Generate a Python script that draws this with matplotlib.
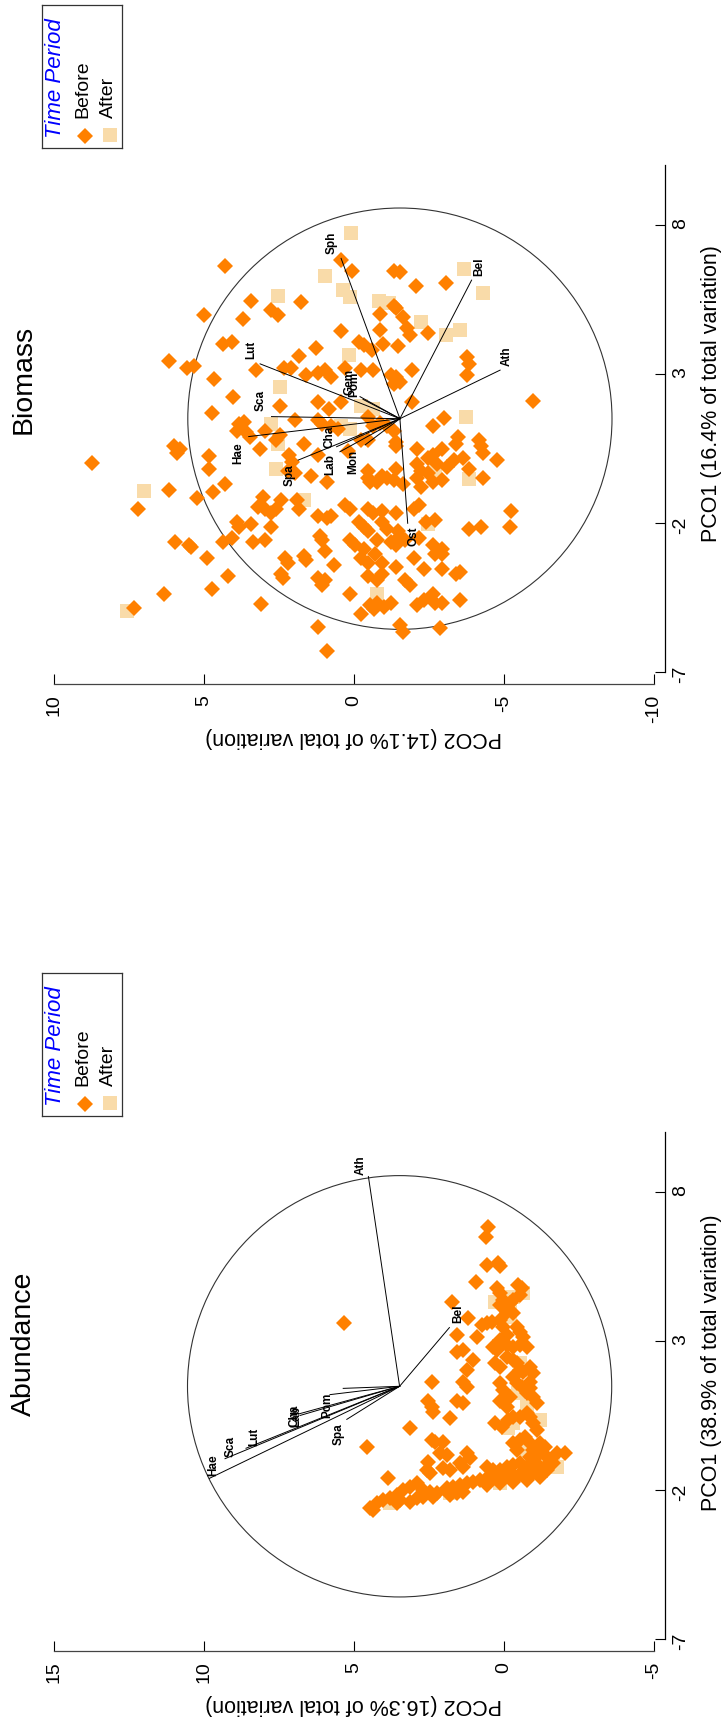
import numpy as np
import matplotlib.pyplot as plt
from matplotlib.patches import Circle

plt.rcParams['font.family'] = ['Liberation Sans', 'DejaVu Sans']
plt.rcParams['axes.unicode_minus'] = False

W, H = 722, 1719
BEFORE = '#ff8000'
AFTER = '#f9dba9'

# ---- Abundance: PCO scores (PCO1, PCO2) ----
abund_before_pco1 = [
    6.81, 6.49, 5.55, 5.63, 5.50, 4.99, 4.77, 4.60, 4.38, 4.88, 4.77, 4.54, 4.38, 4.26, 4.32,
    3.76, 4.21, 3.98, 3.93, 3.54, 3.59, 3.65, 3.20, 3.15, 3.71, 3.48, 3.20, 3.48, 3.31, 3.15,
    3.03, 2.87, 2.81, 2.87, 2.81, 2.64, 2.70, 2.36, 2.81, 2.70, 2.25, 2.14, 2.47, 2.36, 2.25,
    2.03, 1.97, 2.14, 1.92, 1.64, 2.03, 1.64, 1.64, 1.47, 0.97, 0.91, 1.58, 1.36, 1.80, 1.58,
    1.47, 1.24, 1.41, 1.13, 0.91, 0.97, 0.80, 0.63, 0.97, 0.80, 1.13, 0.41, 0.24, 0.13, 0.35,
    0.46, 0.46, 0.57, 0.46, 0.24, 0.01, 0.07, -0.32, -0.38, -0.38, -0.32, -0.21, -0.43, -0.66,
    -0.43, -0.66, -0.43, -0.55, -0.55, -1.05, -0.77, -0.83, -0.77, -0.94, -0.88, -0.99, -0.77,
    -0.88, -0.77, -0.77, -1.33, -1.44, -1.27, -1.33, -1.10, -1.22, -1.22, -1.33, -1.33, -1.22,
    -1.16, -1.10, -1.22, -1.33, -1.22, -1.16, -1.10, -1.61, -2.00, -1.89, -1.78, -2.00, -2.06,
    -2.17, -1.94, -1.89, -1.83, -1.78, -1.72, -1.66, -1.61, -1.55, -1.55, -1.50, -1.50, -1.46,
    -1.44, -1.42, -1.38, -1.33, -2.17, -2.11, -2.06, -2.45, -2.34, -2.28, -2.62, -2.67, -2.39,
    -2.28, -2.22, -2.22, -2.11, -2.45, -2.34, -1.83, -1.78, -1.72, -1.66, -1.55, 3.62]
abund_before_pco2 = [
    0.53, 0.61, 0.58, 0.19, 0.13, 0.93, 0.24, 0.13, 0.02, -0.48, -0.59, -0.53, -0.31, -0.20, 1.74,
    1.19, 0.13, -0.09, -0.31, 0.74, 0.58, 0.41, 1.58, 0.91, 0.13, 0.02, -0.09, -0.42, -0.53, -0.64,
    0.13, -0.09, -0.31, -0.53, -0.76, 1.58, 1.36, 1.02, 0.36, 0.24, 0.30, 0.13, -0.09, -0.31, -0.42,
    -0.53, -0.64, -0.87, -0.98, -0.87, 1.24, 2.41, 1.36, 1.24, 1.58, 1.36, 0.13, 0.02, -0.31, -0.42,
    -0.59, -0.76, -0.87, -0.98, -1.09, 2.52, 2.41, 2.36, 0.13, -0.09, -0.20, 1.80, 0.30, 0.08, -0.14,
    -0.31, -0.53, -0.76, -0.87, -0.98, -1.09, 3.13, 2.41, 2.30, 2.02, -0.53, -0.70, -0.31, -0.42,
    -0.87, -0.98, -1.20, -1.37, 4.58, 2.52, 2.13, 1.91, 1.24, 1.13, -0.87, -0.98, -1.20,
    -1.42, -1.76, -2.03, 2.58, 2.47, 2.02, 1.80, 1.47, 1.36, 0.58, 0.36, 0.13, -0.09,
    -0.31, -0.53, -0.76, -0.98, -1.20, -1.42, -1.64, 3.86, 3.36, 3.13, 2.91, 2.69, 2.47,
    3.58, 1.91, 1.69, 1.47, 1.24, 1.02, 0.80, 0.58, 0.36, 0.13, -0.09, -0.31, -0.53,
    -0.76, -0.98, -1.20, -1.42, 1.80, 1.58, 1.36, 4.24, 4.02, 3.80, 4.47, 4.36, 3.13,
    2.91, 2.69, 2.36, 2.24, 3.58, 3.47, 0.58, 0.13, -0.31, -0.76, -1.20, 5.33]
abund_after_pco1 = [4.32, 4.49, 4.60, 3.82, 2.25, 2.03, 1.24, 0.80, 0.07, 0.24, 0.35, -0.66,
                    -1.16, -1.22, -0.99, -1.78, -2.11, -2.45, 4.21]
abund_after_pco2 = [0.30, -0.31, -0.64, -0.20, -0.53, -0.64, -0.48, -0.76, -0.14, -0.31, -1.20, -0.76,
                    -1.64, -1.76, -1.31, 0.13, 1.80, 3.80, -0.20]

abund_vec_names = ['Ath', 'Bel', 'Hae', 'Sca', 'Lut', 'Cha', 'Lab', 'Pom', 'Spa', '']
abund_vec_pco1 = [8.52, 3.45, -1.61, -0.95, -0.60, 0.55, 0.50, 1.20, 0.37, 1.41]
abund_vec_pco2 = [4.52, 1.82, 9.82, 9.30, 8.60, 6.85, 6.80, 5.80, 5.24, 5.36]
abund_origin = (1.48, 3.48)

# ---- Biomass: PCO scores (PCO1, PCO2) ----
bio_before_pco1 = [
    6.61, 4.99, 5.44, 4.84, 5.14, 4.99, 5.41, 6.82, 6.46, 6.46, 6.41, 5.96, 6.07, 5.29, 5.21,
    5.02, 4.91, 4.54, 4.31, 4.36, 4.43, 4.49, 4.09, 3.97, 4.01, 3.94, 3.79, 3.87, 3.42, 3.19,
    3.27, 4.01, 4.09, 3.12, 3.61, 3.19, 3.19, 2.97, 3.04, 3.12, 2.89, 3.19, 3.12, 3.12, 2.97,
    2.89, 3.12, 3.57, 3.34, 2.97, 2.82, 2.22, 1.69, 1.92, 2.07, 1.84, 2.07, 2.67, 2.74, 2.07,
    2.11, 1.32, 1.39, 1.09, 1.05, 1.44, 1.47, 1.32, 1.24, 1.17, 1.54, 1.24, 1.35, 1.24, 1.51,
    1.24, 0.90, 1.09, 0.79, 0.94, 0.64, 0.79, 0.79, 1.09, 0.72, 0.87, 0.64, 0.79, 0.57, 0.57,
    0.49, 0.34, 0.24, 0.49, 0.27, 0.04, 0.27, 0.42, 0.57, 0.49, 0.19, 0.27, 0.49, 0.19, 0.34,
    0.12, -0.18, -0.26, -0.33, -0.41, -0.63, -0.26, -0.41, -0.18, -0.03, -0.26, -0.33, -0.03,
    -0.11, 0.12, -0.18, 0.00, -0.88, -0.97, -0.70, -1.15, -1.12, -1.23, -1.23, -1.53, -1.75,
    -1.83, -1.75, -1.38, -1.53, -0.48, -0.63, -0.63, -0.48, -0.55, -0.70, -0.48, -0.78, -0.63,
    -0.55, -0.48, -1.60, -2.13, -2.13, -2.20, -1.53, -1.45, -1.53, -1.68, -1.53, -1.53, -1.68,
    -1.60, -1.68, -1.53, -1.38, -1.90, -1.98, -2.13, -2.05, -2.13, -1.98, -2.13, -2.28, -1.98,
    -2.20, -2.28, -2.43, -2.58, -1.98, -2.65, -2.73, -2.80, -2.65, -2.50, -2.65, -2.58, -2.43,
    -2.58, -2.58, -2.73, -2.88, -2.58, -2.65, -2.73, -2.50, -2.73, -2.88, -3.18, -3.78, -3.18,
    -3.33, -3.10, -3.25, -2.95, -3.40, -3.18, -3.33, -3.03, -3.33, -3.48, -3.18, -3.03, -3.03,
    -3.55, -3.70, -3.63, -4.38, -4.23, -3.70, -3.85, -3.85, -4.08, -3.93, -3.78, -3.93, -3.70,
    -3.93, -4.08, -3.55, -4.85, -4.72, -4.38, -4.75, -4.67, -4.82, -4.67, -4.75, -4.60, -4.38,
    -4.67, -4.67, -4.60, -5.05, -4.90, -5.50, -5.42, -5.65, -5.54, -6.28]
bio_before_pco2 = [
    4.31, 5.00, 3.44, 3.70, 2.75, 2.52, 1.75, 0.44, 0.06, -1.35, -1.55, -2.06, -3.06, -1.32, -1.40,
    -0.88, -1.63, -1.78, -1.86, -2.47, 0.44, -0.88, -0.17, -0.32, -0.97, -1.48, -0.60, 1.27, 6.15, 5.58,
    5.35, 4.36, 4.08, 3.28, 1.82, 2.33, 2.10, 1.59, 1.21, 0.98, 0.75, 0.29, -0.25, -0.63, -1.24,
    -1.40, -1.94, -3.78, -3.85, -3.78, 4.66, 4.02, 4.74, 2.47, 1.21, 0.83, 0.44, -1.34, -1.55, -1.94,
    -5.96, 3.82, 3.67, 3.90, 3.59, 1.95, 1.21, 1.06, 0.75, 0.52, -0.48, -0.63, -0.88, -1.09, -3.01,
    -2.63, 3.47, 2.98, 2.59, 2.47, 1.67, -0.25, -0.48, -1.32, -1.40, -3.47, -3.39, -4.16, -4.24, 6.01,
    5.81, 5.89, 4.82, 3.13, 2.16, 2.05, 1.21, 0.21, -1.40, -2.09, -2.47, -2.63, -2.93, -3.62, -4.31,
    -4.77, 4.82, 2.21, 1.98, 1.44, 0.90, -0.48, -0.94, -1.40, -2.09, -2.24, -2.47, -2.78,
    -3.09, -3.32, -3.85, 8.73, 6.15, 4.71, 4.31, 5.23, 3.02, 2.44, 1.90, 1.82, 1.21,
    0.90, 0.75, 0.29, 0.14, -0.48, -0.55, -0.78, -1.09, -1.32, -1.63, -2.09, -2.24, -2.63,
    -2.93, -4.31, -5.23, -5.19, -4.24, -3.85, 7.20, 3.21, 2.98, 2.75, 2.59, -0.48, -0.63,
    -0.94, -1.40, -2.01, -2.17, -2.70, 3.90, 3.82, 3.44, 2.75, -0.17, -0.32, -0.48, -0.94,
    -1.09, -1.48, -1.55, -1.71, -2.40, 5.97, 5.51, 5.43, 4.36, 4.05, 3.36, 2.98, 1.13,
    1.06, 0.14, -0.02, -0.32, -0.78, -1.24, -1.40, -2.17, -2.63, -2.93, 4.89, 4.20, 2.29,
    2.21, 1.67, 1.59, 0.98, 0.67, -0.25, -0.48, -0.71, -0.94, -1.40, -2.01, -2.70, -2.93,
    -2.93, -3.39, -3.55, 6.35, 4.74, 2.44, 2.36, 1.21, 1.06, 0.98, -0.48, -0.78, -0.94,
    -1.71, -1.86, -2.32, 7.35, 3.10, 0.14, -0.55, -0.78, -1.01, -1.24, -2.09, -2.32, -2.63,
    -2.70, -2.93, -3.52, -0.22, -0.68, 1.21, -1.55, -1.63, -2.86, 0.90]
bio_after_pco1 = [-4.94, -0.93, 5.62, 6.29, 7.73, 5.81, 5.59, 5.44, 5.39, 4.76, 4.31, 4.49, 3.64,
                  6.52, 5.71, 2.58, 1.92, 1.84, 1.32, 0.64, 1.24, 1.17, 1.54, -0.18, -0.51, -0.26,
                  -1.23, -2.05, -4.38]
bio_after_pco2 = [7.58, 7.01, 2.52, 0.97, 0.09, 0.37, 0.14, -0.82, -1.17, -2.24, -3.06, -3.52, 0.17,
                  -3.67, -4.31, 2.47, -0.25, -0.63, 2.75, 2.52, 0.44, 0.14, -3.75, 2.59, -3.85, -2.70,
                  1.67, -2.47, -0.78]

bio_vec_names = ['Sph', 'Bel', 'Ath', 'Lut', 'Sca', 'Hae', 'Spa', 'Cha', 'Lab', 'Mon', 'Gem', 'Pom', 'Ost']
bio_vec_pco1 = [6.88, 6.15, 3.13, 3.34, 1.57, 0.90, 0.11, 0.56, 0.39, 0.62, 2.24, 2.15, -2.01]
bio_vec_pco2 = [0.43, -3.92, -4.87, 3.13, 2.75, 3.51, 1.86, 0.58, 0.47, -0.37, -0.20, -0.30, -1.79]
bio_origin = (1.50, -1.53)

RADIUS = 7.07

# label offsets of the vector names, points (screen x, screen y)
abund_lab_off = [(-5.6, 8.5), (6.6, 10.3), (3, 9.6), (4, 9.0), (6, 8.0), (-3, -1), (-3, -1),
                 (-2, -8), (-6, -10.4), (0, 0)]
bio_lab_off = [(-6.6, 11.5), (5.3, 9.6), (5, 9.9), (-6.6, 10.2), (-7.9, 11.6), (-7.3, -11.9),
               (-6, -10.8), (-5.3, 6.8), (-7.2, -8.9), (-8.4, -12), (-7.2, 10.8), (-6.6, 10.8),
               (4, -9.6)]


def px(x, y):
    return x / W, 1 - y / H


def draw_legend(fig, top):
    lax = fig.add_axes([42.3 / W, 1 - (top + 142.7) / H, 80 / W, 142.7 / H])
    lax.set_xlim(0, 1)
    lax.set_ylim(0, 1)
    lax.set_xticks([])
    lax.set_yticks([])
    for s in lax.spines.values():
        s.set_linewidth(0.9)
        s.set_color('#333333')
    lax.text(0.16, 0.49, 'Time Period', rotation=90, color='blue', style='italic',
             fontsize=16, ha='center', va='center')
    lax.text(0.51, 0.205, 'Before', rotation=90, rotation_mode='anchor',
             ha='left', va='center', fontsize=14)
    lax.text(0.825, 0.205, 'After', rotation=90, rotation_mode='anchor',
             ha='left', va='center', fontsize=14)
    lax.plot([0.53], [0.08], ls='none', marker='D', ms=8.4, mfc=BEFORE, mew=0)
    lax.plot([0.845], [0.09], ls='none', marker='s', ms=9.6, mfc=AFTER, mew=0)


def draw_panel(fig, bottom_px, xlim, xbounds, xticks, before, after, origin,
               names, v1, v2, offsets):
    ax = fig.add_axes([24 / W, 1 - bottom_px / H, 641.4 / W, 533.1 / H])
    ax.set_xlim(xlim)
    ax.set_ylim(-7.39, 10.5)

    ax.plot(after[1], after[0], ls='none', marker='s', ms=9.6, mfc=AFTER, mew=0)
    ax.plot(before[1], before[0], ls='none', marker='D', ms=8.4, mfc=BEFORE, mew=0)

    ax.add_patch(Circle((origin[1], origin[0]), RADIUS, fill=False, ec='#333333', lw=0.8))
    for name, p1, p2, off in zip(names, v1, v2, offsets):
        ax.plot([origin[1], p2], [origin[0], p1], color='black', lw=0.7)
        if name:
            ax.annotate(name, (p2, p1), xytext=off, textcoords='offset points',
                        rotation=90, ha='center', va='center', fontsize=8.5,
                        fontweight='bold')

    for s in ['top', 'left']:
        ax.spines[s].set_visible(False)
    ax.spines['bottom'].set_bounds(xbounds)
    ax.spines['bottom'].set_color('#444444')
    ax.spines['right'].set_bounds(-7, 10)
    ax.spines['bottom'].set_linewidth(0.9)
    ax.spines['right'].set_linewidth(0.9)
    ax.yaxis.set_ticks_position('right')
    ax.xaxis.set_ticks_position('bottom')
    ax.set_xticks(xticks)
    ax.set_yticks([8, 3, -2, -7])
    ax.tick_params(direction='in', length=7, width=0.8, labelsize=14, labelrotation=90)
    ax.tick_params(axis='x', pad=8)
    ax.tick_params(axis='y', pad=5)
    ax.patch.set_alpha(0)
    return ax


def main():
    fig = plt.figure(figsize=(W / 100, H / 100), dpi=100)

    # Biomass, upper panel
    draw_panel(fig, 683.6, (11.0, -10.38), (-10, 10), [10, 5, 0, -5, -10],
               (bio_before_pco1, bio_before_pco2), (bio_after_pco1, bio_after_pco2),
               bio_origin, bio_vec_names, bio_vec_pco1, bio_vec_pco2, bio_lab_off)
    fig.text(*px(23.7, 379.5), 'Biomass', rotation=90, fontsize=20.5, ha='center', va='center')
    fig.text(*px(354, 737), 'PCO2 (14.1% of total variation)', rotation=180, fontsize=15.5,
             ha='center', va='center')
    fig.text(*px(711, 393.6), 'PCO1 (16.4% of total variation)', rotation=90, fontsize=15.5,
             ha='center', va='center')
    draw_legend(fig, 5)

    # Abundance, lower panel
    draw_panel(fig, 1650.6, (16.0, -5.38), (-5, 15), [15, 10, 5, 0, -5],
               (abund_before_pco1, abund_before_pco2), (abund_after_pco1, abund_after_pco2),
               abund_origin, abund_vec_names, abund_vec_pco1, abund_vec_pco2, abund_lab_off)
    fig.text(*px(23.7, 1343.7), 'Abundance', rotation=90, fontsize=20.5, ha='center', va='center')
    fig.text(*px(353.4, 1704), 'PCO2 (16.3% of total variation)', rotation=180, fontsize=15.5,
             ha='center', va='center')
    fig.text(*px(711, 1363), 'PCO1 (38.9% of total variation)', rotation=90, fontsize=15.5,
             ha='center', va='center')
    draw_legend(fig, 973)

    fig.savefig('out.png', dpi=100)


if __name__ == '__main__':
    main()
